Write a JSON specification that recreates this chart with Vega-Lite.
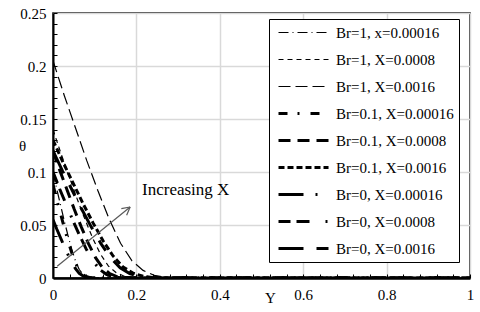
{
  "$schema": "https://vega.github.io/schema/vega-lite/v6.json",
  "autosize": "none",
  "width": 417,
  "height": 265,
  "padding": {"left": 53, "top": 13, "right": 10, "bottom": 34},
  "background": "white",
  "config": {
    "view": {"stroke": "#000", "strokeWidth": 1.5},
    "font": "Liberation Serif",
    "axis": {"labelOverlap": false}
  },
  "datasets": {
    "curves": [
      {"s": "Br=1, x=0.00016", "Y": 0, "t": 0.1},
      {"s": "Br=1, x=0.00016", "Y": 0.009, "t": 0.084},
      {"s": "Br=1, x=0.00016", "Y": 0.018, "t": 0.069},
      {"s": "Br=1, x=0.00016", "Y": 0.027, "t": 0.054},
      {"s": "Br=1, x=0.00016", "Y": 0.036, "t": 0.04},
      {"s": "Br=1, x=0.00016", "Y": 0.045, "t": 0.027},
      {"s": "Br=1, x=0.00016", "Y": 0.054, "t": 0.016},
      {"s": "Br=1, x=0.00016", "Y": 0.063, "t": 0.008},
      {"s": "Br=1, x=0.00016", "Y": 0.072, "t": 0.0035},
      {"s": "Br=1, x=0.00016", "Y": 0.081, "t": 0.0012},
      {"s": "Br=1, x=0.00016", "Y": 0.09, "t": 0.0003},
      {"s": "Br=1, x=0.00016", "Y": 0.12, "t": 0},
      {"s": "Br=1, x=0.00016", "Y": 1, "t": 0},

      {"s": "Br=1, X=0.0008", "Y": 0, "t": 0.14},
      {"s": "Br=1, X=0.0008", "Y": 0.019, "t": 0.1176},
      {"s": "Br=1, X=0.0008", "Y": 0.038, "t": 0.0966},
      {"s": "Br=1, X=0.0008", "Y": 0.057, "t": 0.0756},
      {"s": "Br=1, X=0.0008", "Y": 0.076, "t": 0.056},
      {"s": "Br=1, X=0.0008", "Y": 0.095, "t": 0.0378},
      {"s": "Br=1, X=0.0008", "Y": 0.114, "t": 0.0224},
      {"s": "Br=1, X=0.0008", "Y": 0.133, "t": 0.0112},
      {"s": "Br=1, X=0.0008", "Y": 0.152, "t": 0.0049},
      {"s": "Br=1, X=0.0008", "Y": 0.171, "t": 0.0017},
      {"s": "Br=1, X=0.0008", "Y": 0.19, "t": 0.0004},
      {"s": "Br=1, X=0.0008", "Y": 0.24, "t": 0},
      {"s": "Br=1, X=0.0008", "Y": 1, "t": 0},

      {"s": "Br=1, X=0.0016", "Y": 0, "t": 0.205},
      {"s": "Br=1, X=0.0016", "Y": 0.027, "t": 0.1722},
      {"s": "Br=1, X=0.0016", "Y": 0.054, "t": 0.1415},
      {"s": "Br=1, X=0.0016", "Y": 0.081, "t": 0.1107},
      {"s": "Br=1, X=0.0016", "Y": 0.108, "t": 0.082},
      {"s": "Br=1, X=0.0016", "Y": 0.135, "t": 0.0554},
      {"s": "Br=1, X=0.0016", "Y": 0.162, "t": 0.0328},
      {"s": "Br=1, X=0.0016", "Y": 0.189, "t": 0.0164},
      {"s": "Br=1, X=0.0016", "Y": 0.216, "t": 0.0072},
      {"s": "Br=1, X=0.0016", "Y": 0.243, "t": 0.0025},
      {"s": "Br=1, X=0.0016", "Y": 0.27, "t": 0.0006},
      {"s": "Br=1, X=0.0016", "Y": 0.32, "t": 0},
      {"s": "Br=1, X=0.0016", "Y": 1, "t": 0},

      {"s": "Br=0.1, X=0.00016", "Y": 0, "t": 0.088},
      {"s": "Br=0.1, X=0.00016", "Y": 0.009, "t": 0.0739},
      {"s": "Br=0.1, X=0.00016", "Y": 0.018, "t": 0.0607},
      {"s": "Br=0.1, X=0.00016", "Y": 0.027, "t": 0.0475},
      {"s": "Br=0.1, X=0.00016", "Y": 0.036, "t": 0.0352},
      {"s": "Br=0.1, X=0.00016", "Y": 0.045, "t": 0.0238},
      {"s": "Br=0.1, X=0.00016", "Y": 0.054, "t": 0.0141},
      {"s": "Br=0.1, X=0.00016", "Y": 0.063, "t": 0.007},
      {"s": "Br=0.1, X=0.00016", "Y": 0.072, "t": 0.0031},
      {"s": "Br=0.1, X=0.00016", "Y": 0.081, "t": 0.0011},
      {"s": "Br=0.1, X=0.00016", "Y": 0.09, "t": 0.0003},
      {"s": "Br=0.1, X=0.00016", "Y": 0.12, "t": 0},
      {"s": "Br=0.1, X=0.00016", "Y": 1, "t": 0},

      {"s": "Br=0.1, X=0.0008", "Y": 0, "t": 0.12},
      {"s": "Br=0.1, X=0.0008", "Y": 0.017, "t": 0.1008},
      {"s": "Br=0.1, X=0.0008", "Y": 0.034, "t": 0.0828},
      {"s": "Br=0.1, X=0.0008", "Y": 0.051, "t": 0.0648},
      {"s": "Br=0.1, X=0.0008", "Y": 0.068, "t": 0.048},
      {"s": "Br=0.1, X=0.0008", "Y": 0.085, "t": 0.0324},
      {"s": "Br=0.1, X=0.0008", "Y": 0.102, "t": 0.0192},
      {"s": "Br=0.1, X=0.0008", "Y": 0.119, "t": 0.0096},
      {"s": "Br=0.1, X=0.0008", "Y": 0.136, "t": 0.0042},
      {"s": "Br=0.1, X=0.0008", "Y": 0.153, "t": 0.0014},
      {"s": "Br=0.1, X=0.0008", "Y": 0.17, "t": 0.0004},
      {"s": "Br=0.1, X=0.0008", "Y": 0.22, "t": 0},
      {"s": "Br=0.1, X=0.0008", "Y": 1, "t": 0},

      {"s": "Br=0.1, X=0.0016", "Y": 0, "t": 0.13},
      {"s": "Br=0.1, X=0.0016", "Y": 0.024, "t": 0.1092},
      {"s": "Br=0.1, X=0.0016", "Y": 0.048, "t": 0.0897},
      {"s": "Br=0.1, X=0.0016", "Y": 0.072, "t": 0.0702},
      {"s": "Br=0.1, X=0.0016", "Y": 0.096, "t": 0.052},
      {"s": "Br=0.1, X=0.0016", "Y": 0.12, "t": 0.0351},
      {"s": "Br=0.1, X=0.0016", "Y": 0.144, "t": 0.0208},
      {"s": "Br=0.1, X=0.0016", "Y": 0.168, "t": 0.0104},
      {"s": "Br=0.1, X=0.0016", "Y": 0.192, "t": 0.0046},
      {"s": "Br=0.1, X=0.0016", "Y": 0.216, "t": 0.0016},
      {"s": "Br=0.1, X=0.0016", "Y": 0.24, "t": 0.0004},
      {"s": "Br=0.1, X=0.0016", "Y": 0.29, "t": 0},
      {"s": "Br=0.1, X=0.0016", "Y": 1, "t": 0},

      {"s": "Br=0, X=0.00016", "Y": 0, "t": 0.055},
      {"s": "Br=0, X=0.00016", "Y": 0.009, "t": 0.0462},
      {"s": "Br=0, X=0.00016", "Y": 0.018, "t": 0.038},
      {"s": "Br=0, X=0.00016", "Y": 0.027, "t": 0.0297},
      {"s": "Br=0, X=0.00016", "Y": 0.036, "t": 0.022},
      {"s": "Br=0, X=0.00016", "Y": 0.045, "t": 0.0149},
      {"s": "Br=0, X=0.00016", "Y": 0.054, "t": 0.0088},
      {"s": "Br=0, X=0.00016", "Y": 0.063, "t": 0.0044},
      {"s": "Br=0, X=0.00016", "Y": 0.072, "t": 0.0019},
      {"s": "Br=0, X=0.00016", "Y": 0.081, "t": 0.0007},
      {"s": "Br=0, X=0.00016", "Y": 0.09, "t": 0.0002},
      {"s": "Br=0, X=0.00016", "Y": 0.12, "t": 0},
      {"s": "Br=0, X=0.00016", "Y": 1, "t": 0},

      {"s": "Br=0, X=0.0008", "Y": 0, "t": 0.1},
      {"s": "Br=0, X=0.0008", "Y": 0.016, "t": 0.084},
      {"s": "Br=0, X=0.0008", "Y": 0.032, "t": 0.069},
      {"s": "Br=0, X=0.0008", "Y": 0.048, "t": 0.054},
      {"s": "Br=0, X=0.0008", "Y": 0.064, "t": 0.04},
      {"s": "Br=0, X=0.0008", "Y": 0.08, "t": 0.027},
      {"s": "Br=0, X=0.0008", "Y": 0.096, "t": 0.016},
      {"s": "Br=0, X=0.0008", "Y": 0.112, "t": 0.008},
      {"s": "Br=0, X=0.0008", "Y": 0.128, "t": 0.0035},
      {"s": "Br=0, X=0.0008", "Y": 0.144, "t": 0.0012},
      {"s": "Br=0, X=0.0008", "Y": 0.16, "t": 0.0003},
      {"s": "Br=0, X=0.0008", "Y": 0.21, "t": 0},
      {"s": "Br=0, X=0.0008", "Y": 1, "t": 0},

      {"s": "Br=0, X=0.0016", "Y": 0, "t": 0.12},
      {"s": "Br=0, X=0.0016", "Y": 0.023, "t": 0.1008},
      {"s": "Br=0, X=0.0016", "Y": 0.046, "t": 0.0828},
      {"s": "Br=0, X=0.0016", "Y": 0.069, "t": 0.0648},
      {"s": "Br=0, X=0.0016", "Y": 0.092, "t": 0.048},
      {"s": "Br=0, X=0.0016", "Y": 0.115, "t": 0.0324},
      {"s": "Br=0, X=0.0016", "Y": 0.138, "t": 0.0192},
      {"s": "Br=0, X=0.0016", "Y": 0.161, "t": 0.0096},
      {"s": "Br=0, X=0.0016", "Y": 0.184, "t": 0.0042},
      {"s": "Br=0, X=0.0016", "Y": 0.207, "t": 0.0014},
      {"s": "Br=0, X=0.0016", "Y": 0.23, "t": 0.0004},
      {"s": "Br=0, X=0.0016", "Y": 0.28, "t": 0},
      {"s": "Br=0, X=0.0016", "Y": 1, "t": 0}
    ],
    "arrow": [
      {"Y": 0.01, "t": 0.011, "Y2": 0.185, "t2": 0.067},
      {"Y": 0.1639, "t": 0.0654, "Y2": 0.185, "t2": 0.067},
      {"Y": 0.1766, "t": 0.0592, "Y2": 0.185, "t2": 0.067}
    ],
    "note": [{"Y": 0.2135, "t": 0.083, "label": "Increasing X"}]
  },
  "resolve": {"axis": {"x": "independent", "y": "independent"}},
  "layer": [
    {
      "data": {"name": "curves"},
      "mark": {"type": "line", "color": "#000", "strokeCap": "butt", "clip": true},
      "encoding": {
        "x": {
          "field": "Y", "type": "quantitative",
          "scale": {"domain": [0, 1], "nice": false, "zero": false},
          "axis": {
            "orient": "bottom",
            "title": "Y",
            "titleX": 217, "titleY": 19, "titleBaseline": "middle", "titleAlign": "center",
            "titleFont": "Liberation Serif", "titleFontSize": 15, "titleFontWeight": "normal", "titleColor": "#000",
            "values": [0, 0.2, 0.4, 0.6, 0.8, 1],
            "format": "~g",
            "labelOverlap": false,
            "labelFont": "Liberation Serif", "labelFontSize": 15, "labelColor": "#000",
            "labelPadding": 13, "labelFlush": false,
            "tickSize": -4, "tickColor": "#000", "tickWidth": 1,
            "domainColor": "#000", "domainWidth": 2.5,
            "grid": true, "gridColor": "#d9d9d9", "gridWidth": 1.5
          }
        },
        "y": {
          "field": "t", "type": "quantitative",
          "scale": {"domain": [0, 0.25], "nice": false},
          "axis": {
            "orient": "left",
            "title": "θ",
            "titleAngle": 0, "titleX": -31, "titleY": 132, "titleBaseline": "middle", "titleAlign": "center",
            "titleFont": "Liberation Serif", "titleFontSize": 15, "titleFontWeight": "normal", "titleColor": "#000",
            "values": [0, 0.05, 0.1, 0.15, 0.2, 0.25],
            "format": "~g",
            "labelOverlap": false,
            "labelFont": "Liberation Serif", "labelFontSize": 15, "labelColor": "#000",
            "labelPadding": 11, "labelFlush": false,
            "tickSize": -4, "tickColor": "#000", "tickWidth": 1,
            "domainColor": "#000", "domainWidth": 2,
            "grid": true, "gridColor": "#d9d9d9", "gridWidth": 1.5
          }
        },
        "detail": {"field": "s"},
        "strokeDash": {
          "field": "s", "type": "nominal",
          "scale": {
            "domain": ["Br=1, x=0.00016", "Br=1, X=0.0008", "Br=1, X=0.0016", "Br=0.1, X=0.00016", "Br=0.1, X=0.0008", "Br=0.1, X=0.0016", "Br=0, X=0.00016", "Br=0, X=0.0008", "Br=0, X=0.0016"],
            "range": [[10, 4, 1, 4], [5, 4], [12, 5], [9, 10, 2, 11], [12, 7], [6, 3], [25, 12, 2, 13], [12, 6, 13, 16, 2, 6], [25, 13, 12, 13]]
          },
          "legend": {
            "title": null, "orient": "none", "legendX": 216, "legendY": 6,
            "symbolType": "M-0.6,0H6.07", "symbolSize": 225, "symbolStrokeColor": "#000",
            "labelFont": "Liberation Serif", "labelFontSize": 15, "labelColor": "#000", "labelOffset": 44,
            "labelLimit": 300, "clipHeight": 17,
            "strokeColor": "#000", "fillColor": "white", "padding": 5, "rowPadding": 10
          }
        },
        "strokeWidth": {
          "field": "s", "type": "nominal",
          "scale": {
            "type": "ordinal",
            "domain": ["Br=1, x=0.00016", "Br=1, X=0.0008", "Br=1, X=0.0016", "Br=0.1, X=0.00016", "Br=0.1, X=0.0008", "Br=0.1, X=0.0016", "Br=0, X=0.00016", "Br=0, X=0.0008", "Br=0, X=0.0016"],
            "range": [1.2, 1.2, 1.2, 3, 3, 3, 3, 3, 3]
          },
          "legend": {
            "title": null, "orient": "none", "legendX": 216, "legendY": 6,
            "symbolType": "M-0.6,0H6.07", "symbolSize": 225, "symbolStrokeColor": "#000",
            "labelFont": "Liberation Serif", "labelFontSize": 15, "labelColor": "#000", "labelOffset": 44,
            "labelLimit": 300, "clipHeight": 17,
            "strokeColor": "#000", "fillColor": "white", "padding": 5, "rowPadding": 10
          }
        }
      }
    },
    {
      "data": {"name": "arrow"},
      "mark": {"type": "rule", "color": "#595959", "strokeWidth": 1.2},
      "encoding": {
        "x": {"field": "Y", "type": "quantitative", "axis": null},
        "y": {"field": "t", "type": "quantitative", "axis": null},
        "x2": {"field": "Y2"},
        "y2": {"field": "t2"}
      }
    },
    {
      "data": {"name": "note"},
      "mark": {"type": "text", "align": "left", "baseline": "middle", "font": "Liberation Serif", "fontSize": 17, "color": "#000"},
      "encoding": {
        "x": {
          "field": "Y", "type": "quantitative",
          "axis": {
            "orient": "bottom", "title": null, "labels": false, "domain": false, "grid": false,
            "values": [0.04, 0.08, 0.12, 0.16, 0.24, 0.28, 0.32, 0.36, 0.44, 0.48, 0.52, 0.56, 0.64, 0.68, 0.72, 0.76, 0.84, 0.88, 0.92, 0.96],
            "tickSize": -4, "tickColor": "#000", "tickWidth": 1
          }
        },
        "y": {
          "field": "t", "type": "quantitative",
          "axis": {
            "orient": "left", "title": null, "labels": false, "domain": false, "grid": false,
            "values": [0.01, 0.02, 0.03, 0.04, 0.06, 0.07, 0.08, 0.09, 0.11, 0.12, 0.13, 0.14, 0.16, 0.17, 0.18, 0.19, 0.21, 0.22, 0.23, 0.24],
            "tickSize": -4, "tickColor": "#000", "tickWidth": 1
          }
        },
        "text": {"field": "label"}
      }
    }
  ]
}
